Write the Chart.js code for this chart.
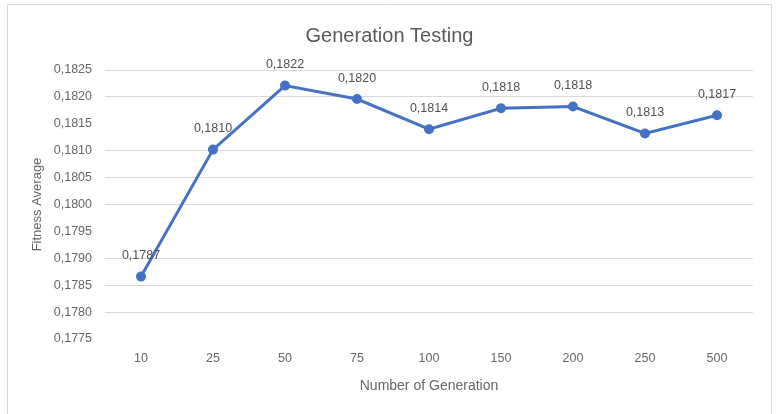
<!DOCTYPE html>
<html>
<head>
<meta charset="utf-8">
<script src="https://cdn.jsdelivr.net/npm/chart.js@4/dist/chart.umd.min.js"></script>
<style>
html,body{margin:0;padding:0;background:#fff;}
#wrap{width:779px;height:414px;position:relative;}
</style>
</head>
<body>
<div id="wrap"><canvas id="c" width="779" height="414"></canvas></div>
<script>
// ---- data ----
const categories = ['10', '25', '50', '75', '100', '150', '200', '250', '500'];
const fitnessAverage = [0.17866, 0.18102, 0.18221, 0.18196, 0.18140, 0.18179, 0.18182, 0.18132, 0.18166];
const yMin = 0.1775;
const yMax = 0.1825;
const yStep = 0.0005;
const fadedGridTicks = ['0,1775', '0,1795', '0,1815'];
const chartTitle = 'Generation Testing';
const xTitle = 'Number of Generation';
const yTitle = 'Fitness Average';

const fmt = v => Number(v).toFixed(4).replace('.', ',');
const FONT = "'Liberation Sans', Arial, sans-serif";

const framePlugin = {
  id: 'frame',
  beforeDraw(chart) {
    const ctx = chart.ctx;
    ctx.save();
    ctx.fillStyle = '#ffffff';
    ctx.fillRect(0, 0, chart.width, chart.height);
    ctx.strokeStyle = '#d9d9d9';
    ctx.lineWidth = 1;
    ctx.beginPath();
    ctx.moveTo(7.5, 414);
    ctx.lineTo(7.5, 4.5);
    ctx.lineTo(771.5, 4.5);
    ctx.lineTo(771.5, 414);
    ctx.stroke();
    ctx.restore();
  }
};

const labelPlugin = {
  id: 'pointLabels',
  afterDatasetsDraw(chart) {
    const ctx = chart.ctx;
    const meta = chart.getDatasetMeta(0);
    const data = chart.data.datasets[0].data;
    ctx.save();
    ctx.font = '12.5px ' + FONT;
    ctx.fillStyle = '#505050';
    ctx.textAlign = 'center';
    ctx.textBaseline = 'middle';
    meta.data.forEach((pt, i) => {
      ctx.fillText(fmt(data[i]), pt.x, pt.y - 21);
    });
    ctx.restore();
  }
};

new Chart(document.getElementById('c'), {
  type: 'line',
  data: {
    labels: categories,
    datasets: [{
      label: yTitle,
      data: fitnessAverage,
      borderColor: '#4472C4',
      backgroundColor: '#4472C4',
      borderWidth: 3,
      pointRadius: 3.5,
      pointHoverRadius: 3.5,
      pointBackgroundColor: '#4472C4',
      pointBorderColor: '#4472C4',
      tension: 0,
      fill: false
    }]
  },
  options: {
    responsive: false,
    devicePixelRatio: 1,
    animation: false,
    layout: { padding: { left: 26, right: 26, top: 0, bottom: 0 } },
    plugins: {
      legend: { display: false },
      tooltip: { enabled: false },
      title: {
        display: true,
        text: chartTitle,
        color: '#595959',
        font: { family: FONT, size: 20, weight: 'normal' },
        padding: { top: 24, bottom: 22 }
      }
    },
    scales: {
      x: {
        offset: true,
        grid: { display: false, drawTicks: false },
        border: { display: false },
        ticks: { color: '#666666', font: { family: FONT, size: 12.5 }, padding: 12, maxRotation: 0 },
        title: {
          display: true,
          text: xTitle,
          color: '#666666',
          font: { family: FONT, size: 14 },
          padding: { top: 0, bottom: 19 }
        },
        afterFit(scale) { scale.height = 75; }
      },
      y: {
        min: yMin,
        max: yMax,
        grid: {
          drawTicks: false,
          color: ctx => (ctx.tick && fadedGridTicks.includes(fmt(ctx.tick.value))) ? 'rgba(0,0,0,0)' : '#d9d9d9',
          lineWidth: 1
        },
        border: { display: false },
        ticks: {
          stepSize: yStep,
          color: '#666666',
          font: { family: FONT, size: 12.5 },
          padding: 13,
          callback: v => fmt(v)
        },
        title: {
          display: true,
          text: yTitle,
          color: '#666666',
          font: { family: FONT, size: 13 },
          padding: { top: 4, bottom: 0 }
        },
        afterFit(scale) { scale.width = 79; }
      }
    }
  },
  plugins: [framePlugin, labelPlugin]
});
</script>
</body>
</html>
